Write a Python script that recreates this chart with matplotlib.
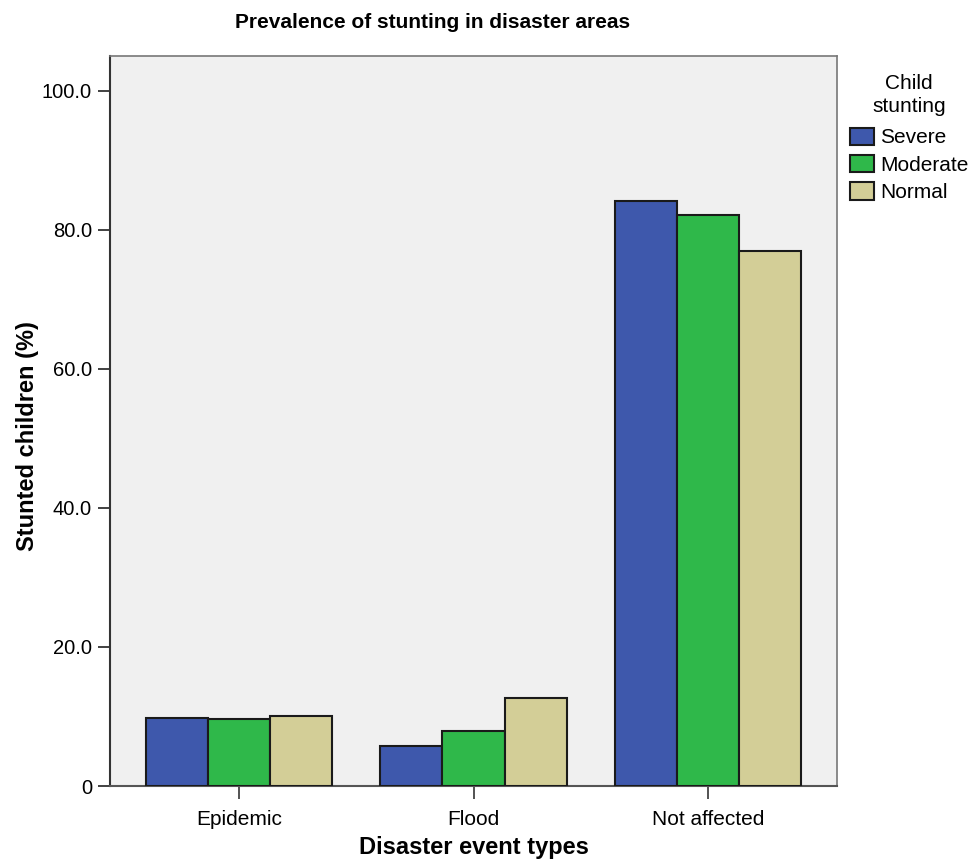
import matplotlib
matplotlib.use("Agg")
import matplotlib.pyplot as plt
import numpy as np

plt.rcParams["font.family"] = ["Liberation Sans", "DejaVu Sans"]

categories = ["Epidemic", "Flood", "Not affected"]
groups = ["Severe", "Moderate", "Normal"]
severe = [9.8, 5.7, 84.2]
moderate = [9.6, 7.9, 82.2]
normal = [10.0, 12.7, 77.0]
yticks = [0, 20, 40, 60, 80, 100]
ytick_labels = ["0", "20.0", "40.0", "60.0", "80.0", "100.0"]

colors = ["#3e58ac", "#2fb84a", "#d3ce97"]

fig = plt.figure(figsize=(9.72, 8.61), dpi=100)
ax = fig.add_axes([110 / 972, 75 / 861, 727 / 972, 730 / 861])
ax.set_facecolor("#f0f0f0")

x = np.arange(len(categories))
width = 0.265
for i, (vals, lab) in enumerate(zip([severe, moderate, normal], groups)):
    ax.bar(x + (i - 1) * width, vals, width, color=colors[i],
           edgecolor="#1a1a1a", linewidth=1.5, label=lab, zorder=3)

ax.set_xlim(-0.55, 2.55)
ax.set_ylim(0, 105)
ax.set_xticks(x)
ax.set_xticklabels(categories, fontsize=15)
ax.set_yticks(yticks)
ax.set_yticklabels(ytick_labels, fontsize=14.5)
ax.tick_params(axis="y", direction="out", length=9, width=1.3, color="#333333", pad=4)
ax.tick_params(axis="x", direction="out", length=9, width=1.3, color="#444444", pad=8)

ax.spines["left"].set_color("#333333")
ax.spines["left"].set_linewidth(1.5)
ax.spines["bottom"].set_color("#555555")
ax.spines["bottom"].set_linewidth(1.5)
ax.spines["top"].set_color("#777777")
ax.spines["top"].set_linewidth(1.2)
ax.spines["right"].set_color("#777777")
ax.spines["right"].set_linewidth(1.2)

ax.set_xlabel("Disaster event types", fontsize=17, fontweight="bold", labelpad=5)
ax.set_ylabel("Stunted children (%)", fontsize=17, fontweight="bold", labelpad=2)
ax.yaxis.label.set_y(0.48)
fig.text(433 / 972, 1 - 22 / 861, "Prevalence of stunting in disaster areas",
         ha="center", va="center", fontsize=15, fontweight="bold")

leg = fig.legend(loc="upper left", bbox_to_anchor=(850 / 972, 1 - 74 / 861),
                 title="Child\nstunting", frameon=False, fontsize=15,
                 title_fontsize=15, handlelength=1.15, handleheight=0.9,
                 handletextpad=0.3, labelspacing=0.36, borderpad=0,
                 borderaxespad=0)
leg.get_title().set_multialignment("center")
leg.get_title().set_linespacing(1.3)
leg._legend_box.sep = 8

fig.savefig("out.png", dpi=100)
